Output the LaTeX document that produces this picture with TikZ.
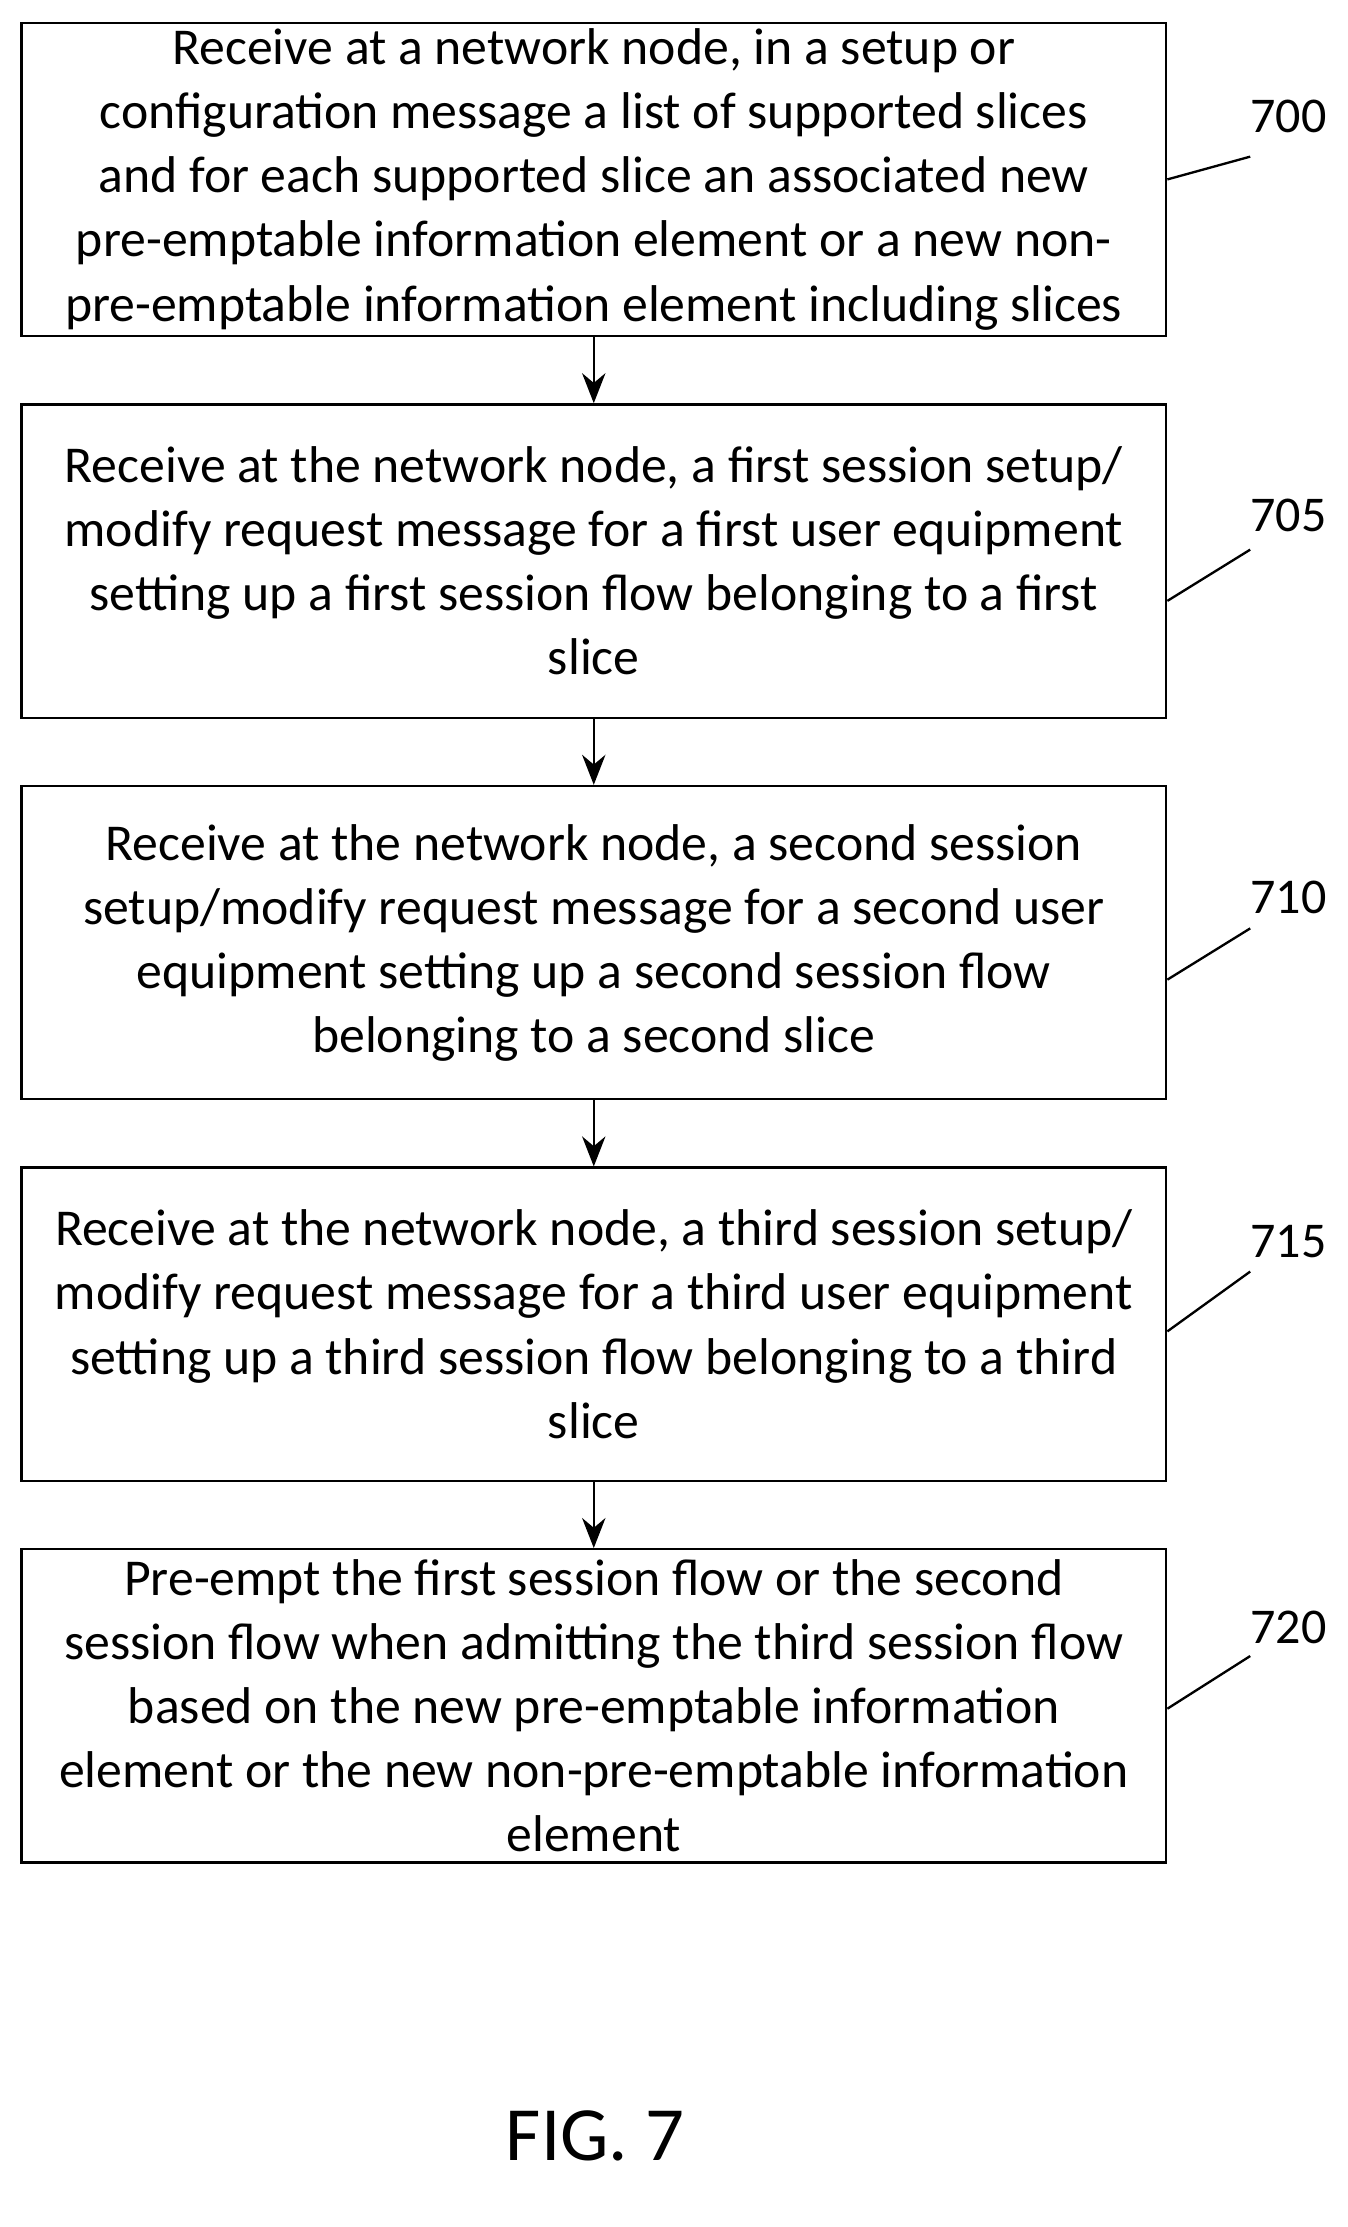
\documentclass[tikz,border=0pt]{standalone}
\usepackage{fontspec}
\setmainfont{Carlito}
\usetikzlibrary{arrows.meta}

\begin{document}
\begin{tikzpicture}
  [x=0.03cm, y=-0.03cm,
   stepbox/.style={draw, line width=1.4pt, minimum width=24.12cm, minimum height=6.6cm,
     align=center, inner sep=0pt,
     font=\fontsize{31pt}{38.4pt}\selectfont},
   flow/.style={-{Stealth[length=18pt,width=14pt]}, line width=1.4pt},
   ref/.style={font=\fontsize{30pt}{34pt}\selectfont},
   lead/.style={line width=1.4pt},
  ]
  \useasboundingbox (0,0) rectangle (946,1564);

  \node[stepbox] (s700) at (417,126) {Receive at a network node, in a setup or\\configuration message a list of supported slices\\and for each supported slice an associated new\\pre-emptable information element or a new non-\\pre-emptable information element including slices};
  \node[stepbox] (s705) at (417,394) {Receive at the network node, a first session setup/\\modify request message for a first user equipment\\setting up a first session flow belonging to a first\\slice};
  \node[stepbox] (s710) at (417,662) {Receive at the network node, a second session\\setup/modify request message for a second user\\equipment setting up a second session flow\\belonging to a second slice};
  \node[stepbox] (s715) at (417,930) {Receive at the network node, a third session setup/\\modify request message for a third user equipment\\setting up a third session flow belonging to a third\\slice};
  \node[stepbox] (s720) at (417,1198) {Pre-empt the first session flow or the second\\session flow when admitting the third session flow\\based on the new pre-emptable information\\element or the new non-pre-emptable information\\element};

  \draw[flow] (s700) -- (s705);
  \draw[flow] (s705) -- (s710);
  \draw[flow] (s710) -- (s715);
  \draw[flow] (s715) -- (s720);

  % reference numerals
  \node[ref] (n700) at (905,82) {700};
  \node[ref] (n705) at (905,362) {705};
  \node[ref] (n710) at (905,630) {710};
  \node[ref] (n715) at (905,872) {715};
  \node[ref] (n720) at (905,1143) {720};
  \draw[lead] (s700.east |- 0,126) -- (878,110);
  \draw[lead] (s705.east |- 0,422) -- (878,386);
  \draw[lead] (s710.east |- 0,688) -- (878,652);
  \draw[lead] (s715.east |- 0,935) -- (878,893);
  \draw[lead] (s720.east |- 0,1200) -- (878,1163);

  \node[font=\fontsize{46pt}{52pt}\selectfont] (fig) at (418,1500) {FIG. 7};
\end{tikzpicture}
\end{document}
